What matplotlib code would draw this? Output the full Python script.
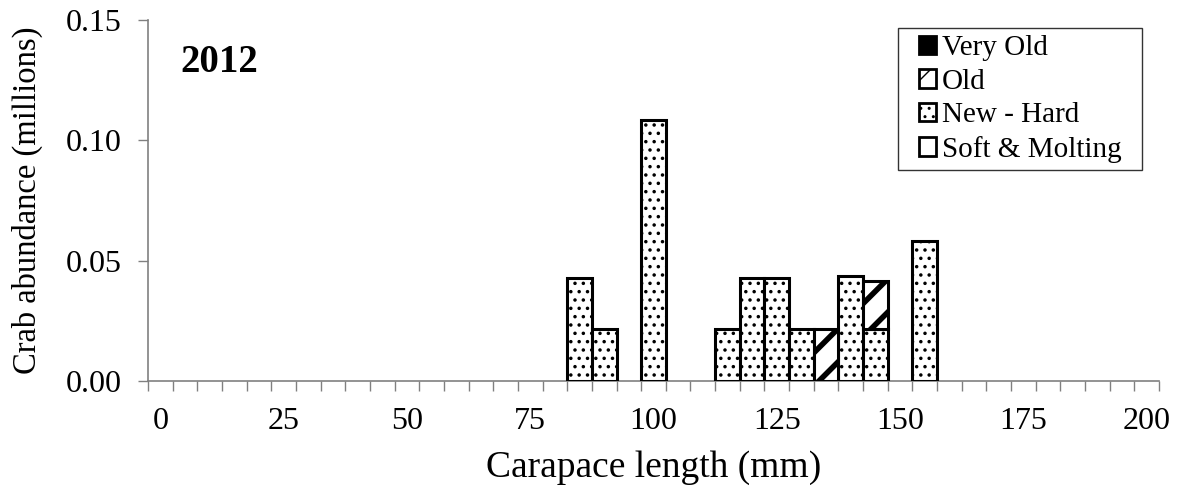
import matplotlib.pyplot as plt
import matplotlib.patches as patches
from matplotlib.path import Path
import numpy as np

plt.rcParams['font.family'] = ['Liberation Serif', 'DejaVu Serif']
plt.rcParams['hatch.linewidth'] = 1.0

# size classes (mm), one category per 5 mm
size_classes = list(range(0, 205, 5))
tick_labels = [str(s) if s % 25 == 0 else '' for s in size_classes]

# abundance by shell condition (millions), only non-zero classes listed
very_old = {}
old = {135: 0.0215, 145: 0.020}
new_hard = {85: 0.043, 90: 0.0215, 100: 0.1085, 115: 0.0215, 120: 0.043,
            125: 0.043, 130: 0.0215, 140: 0.0435, 145: 0.0215, 155: 0.058}
soft_molting = {}

# name, values, face colour, hatch, hatch line width
series = [
    ('Soft & Molting', soft_molting, 'white', '', 1.0),
    ('New - Hard', new_hard, 'white', '..', 1.3),
    ('Old', old, 'white', '/', 4.0),
    ('Very Old', very_old, 'black', '', 1.0),
]


def set_hatch_lw(artist, lw):
    if hasattr(artist, 'set_hatch_linewidth'):
        artist.set_hatch_linewidth(lw)
    else:
        artist._hatch_linewidth = lw


fig = plt.figure(figsize=(11.8, 4.9), dpi=100)
ax = fig.add_axes([148 / 1180, 1 - 381 / 490, 1011 / 1180, 361 / 490])

x = np.arange(len(size_classes))
bottom = np.zeros(len(size_classes))
for name, vals, color, hatch, hlw in series:
    h = np.array([vals.get(s, 0.0) for s in size_classes])
    mask = h > 0
    if mask.any():
        bars = ax.bar(x[mask], h[mask], width=1.0, bottom=bottom[mask], color=color,
                      edgecolor='black', linewidth=2.2, hatch=hatch, zorder=3)
        for b in bars:
            set_hatch_lw(b, hlw)
    bottom += h

ax.set_xlim(-0.5, len(size_classes) - 0.5)
ax.set_ylim(0, 0.15)
ax.set_yticks([0, 0.05, 0.10, 0.15])
ax.set_yticklabels(['0.00', '0.05', '0.10', '0.15'])
ax.set_xticks(x)
ax.set_xticklabels(tick_labels)
ax.set_xticks(np.arange(-0.5, len(size_classes), 1.0), minor=True)
ax.tick_params(axis='x', which='major', length=0, pad=19, labelsize=23)
ax.tick_params(axis='x', which='minor', length=7, width=1, color='#808080')
ax.tick_params(axis='y', length=7, width=1, color='#808080', labelsize=23, pad=12)

for side in ['top', 'right']:
    ax.spines[side].set_visible(False)
for side in ['left', 'bottom']:
    ax.spines[side].set_color('#808080')
    ax.spines[side].set_linewidth(1.2)

ax.set_xlabel('Carapace length (mm)', fontsize=27, labelpad=10)
ax.set_ylabel('Crab abundance (millions)', fontsize=23.5, labelpad=16)
ax.text(32 / 1011, 1 - 24 / 361, '2012', transform=ax.transAxes, fontsize=28,
        fontweight='bold', va='top', ha='left')

legend_elements = []
for label, face, hatch, hlw in [('Very Old', 'black', '', 1.0), ('Old', 'white', '/', 3.0),
                                ('New - Hard', 'white', '..', 1.3), ('Soft & Molting', 'white', '', 1.0)]:
    p = patches.Patch(facecolor=face, edgecolor='black', linewidth=2, hatch=hatch, label=label)
    set_hatch_lw(p, hlw)
    legend_elements.append(p)

pad_x = 13  # extra horizontal frame padding, pixels

leg = ax.legend(handles=legend_elements, loc='upper right',
                bbox_to_anchor=((1142 - pad_x) / 1180, 1 - 28 / 490), bbox_transform=fig.transFigure,
                borderaxespad=0, fontsize=21, frameon=True, fancybox=False,
                handlelength=0.6, handleheight=0.6, handletextpad=0.2,
                labelspacing=0.26, borderpad=0.25)


def wide_box(x0, y0, width, height, mutation_size):
    x0 -= pad_x
    width += 2 * pad_x
    return Path([(x0, y0), (x0 + width, y0), (x0 + width, y0 + height), (x0, y0 + height), (x0, y0)],
                closed=True)


leg.get_frame().set_boxstyle(wide_box)
leg.get_frame().set_edgecolor('black')
leg.get_frame().set_linewidth(1)

fig.savefig('out.png', dpi=100)
